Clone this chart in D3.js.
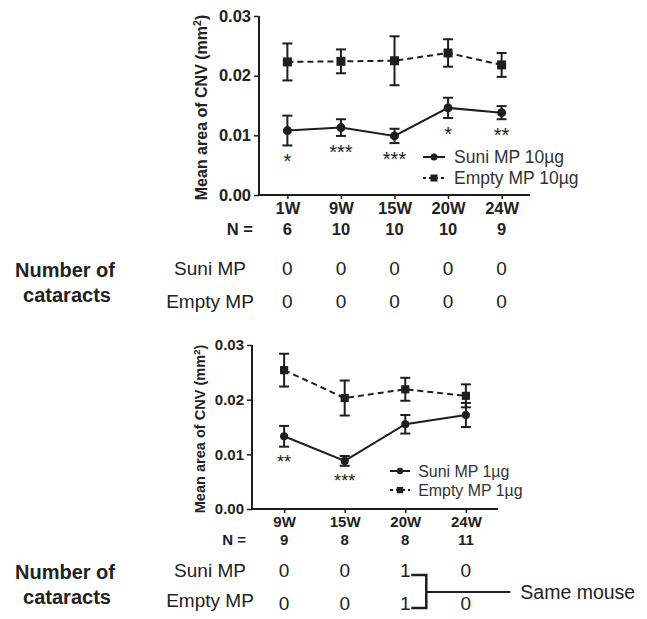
<!DOCTYPE html>
<html>
<head>
<meta charset="utf-8">
<script src="https://cdn.jsdelivr.net/npm/d3@7"></script>
<style>
  body { margin: 0; background: #fff; }
  svg { display: block; font-family: "Liberation Sans", Arial, sans-serif; }
</style>
</head>
<body>
<div id="chart"></div>
<script>
// top panel (10 µg)
const weeksTop = ["1W", "9W", "15W", "20W", "24W"]
const nTop = [6, 10, 10, 10, 9]
const suni10Mean = [0.0108, 0.0113, 0.0099, 0.0146, 0.0138]
const suni10Err = [0.0025, 0.0014, 0.0012, 0.0017, 0.0011]
const empty10Mean = [0.0223, 0.0224, 0.0225, 0.0238, 0.0218]
const empty10Err = [0.0031, 0.0020, 0.0041, 0.0023, 0.0020]
const sigTop = ["*", "***", "***", "*", "**"]
const cataractSuniTop = [0, 0, 0, 0, 0]
const cataractEmptyTop = [0, 0, 0, 0, 0]

// bottom panel (1 µg)
const weeksBottom = ["9W", "15W", "20W", "24W"]
const nBottom = [9, 8, 8, 11]
const suni1Mean = [0.0133, 0.0088, 0.0155, 0.0172]
const suni1Err = [0.0019, 0.0009, 0.0017, 0.0022]
const empty1Mean = [0.0254, 0.0203, 0.0219, 0.0207]
const empty1Err = [0.0030, 0.0032, 0.0021, 0.0021]
const sigBottom = ["**", "***", "", ""]
const cataractSuniBottom = [0, 0, 1, 0]
const cataractEmptyBottom = [0, 0, 1, 0]

const yTicks = [0, 0.01, 0.02, 0.03]
const ink = "#1e1e1e"
const textInk = "#222"

const svg = d3.select("#chart").append("svg")
    .attr("width", 647)
    .attr("height", 619)

function panel(opt) {
  const x = d3.scalePoint().domain(opt.weeks).range(opt.xr).padding(0.53)
  const y = d3.scaleLinear().domain([0, 0.03]).range(opt.yr)
  const f = opt.k   // font scale
  const g = svg.append("g")

  // axes
  const yAxis = g.append("g")
      .attr("transform", `translate(${opt.xr[0]},0)`)
      .call(d3.axisLeft(y).tickValues(yTicks).tickFormat(d3.format(".2f")).tickSize(5).tickPadding(3))
  const xAxis = g.append("g")
      .attr("transform", `translate(0,${opt.yr[0]})`)
      .call(d3.axisBottom(x).tickSize(4).tickPadding(3))
  for (const ax of [yAxis, xAxis]) {
    ax.select(".domain").attr("stroke", ink).attr("stroke-width", 2)
    ax.selectAll(".tick line").attr("stroke", ink).attr("stroke-width", 1.5)
    ax.selectAll("text").attr("fill", textInk).attr("font-weight", "bold")
      .attr("font-size", 16.5 * f).attr("font-family", "Liberation Sans, Arial, sans-serif")
  }
  xAxis.selectAll(".domain").attr("d", `M${opt.xr[0]},0H${opt.xr[1]}`)
  yAxis.selectAll(".domain").attr("d", `M0,${opt.yr[0]}V${opt.yr[1]}`)

  // y title
  const t = g.append("text")
      .attr("transform", `translate(${opt.titleX},${(opt.yr[0] + opt.yr[1]) / 2 + 2}) rotate(-90)`)
      .attr("text-anchor", "middle")
      .attr("font-weight", "bold")
      .attr("font-size", 16 * f)
      .attr("fill", textInk)
  t.append("tspan").text("Mean area of CNV (mm")
  t.append("tspan").attr("font-size", 10.5 * f).attr("dy", -6 * f).text("2")
  t.append("tspan").attr("dy", 6 * f).text(")")

  // N row
  const nY = opt.yr[0] + 40 * f
  g.append("text").attr("x", opt.xr[0] - 6).attr("y", nY)
      .attr("text-anchor", "end").attr("font-weight", "bold")
      .attr("font-size", 16.5 * f).attr("fill", textInk).text("N =")
  g.selectAll(".n").data(opt.n).join("text")
      .attr("x", (d, i) => x(opt.weeks[i])).attr("y", nY)
      .attr("text-anchor", "middle").attr("font-weight", "bold")
      .attr("font-size", 16.5 * f).attr("fill", textInk).text(d => d)

  const series = [
    {mean: opt.suniMean, err: opt.suniErr, dash: null, shape: "circle"},
    {mean: opt.emptyMean, err: opt.emptyErr, dash: "6,4", shape: "square"}
  ]
  const line = d3.line().x(d => x(d.w)).y(d => y(d.v))
  const cap = 5

  series.forEach(s => {
    const pts = s.mean.map((v, i) => ({w: opt.weeks[i], v, e: s.err[i]}))
    g.append("path").datum(pts)
        .attr("d", line).attr("fill", "none")
        .attr("stroke", ink).attr("stroke-width", 2)
        .attr("stroke-dasharray", s.dash)
    const eb = g.append("g").attr("stroke", ink).attr("stroke-width", 2)
    pts.forEach(p => {
      const cx = x(p.w)
      eb.append("line").attr("x1", cx).attr("x2", cx).attr("y1", y(p.v + p.e)).attr("y2", y(p.v - p.e))
      eb.append("line").attr("x1", cx - cap).attr("x2", cx + cap).attr("y1", y(p.v + p.e)).attr("y2", y(p.v + p.e))
      eb.append("line").attr("x1", cx - cap).attr("x2", cx + cap).attr("y1", y(p.v - p.e)).attr("y2", y(p.v - p.e))
    })
    if (s.shape === "circle") {
      g.selectAll(null).data(pts).join("circle")
          .attr("cx", d => x(d.w)).attr("cy", d => y(d.v)).attr("r", 4.5 * f).attr("fill", ink)
    } else {
      const h = 4.5 * f
      g.selectAll(null).data(pts).join("rect")
          .attr("x", d => x(d.w) - h).attr("y", d => y(d.v) - h)
          .attr("width", 2 * h).attr("height", 2 * h).attr("fill", ink)
    }
  })

  // significance stars under the Suni error bars
  g.selectAll(".sig").data(opt.sig).join("text")
      .attr("x", (d, i) => x(opt.weeks[i]))
      .attr("y", (d, i) => y(opt.suniMean[i] - opt.suniErr[i]) + 23 * f)
      .attr("text-anchor", "middle").attr("font-size", 20 * f)
      .attr("fill", textInk).text(d => d)

  // legend
  const lg = g.append("g").attr("transform", `translate(${opt.legend[0]},${opt.legend[1]})`)
  series.forEach((s, i) => {
    const ly = i * 21 * f
    lg.append("line").attr("x1", 0).attr("x2", 22 * f).attr("y1", ly).attr("y2", ly)
        .attr("stroke", ink).attr("stroke-width", 2).attr("stroke-dasharray", s.dash ? "3,3" : null)
    if (s.shape === "circle") {
      lg.append("circle").attr("cx", 11 * f).attr("cy", ly).attr("r", 3.5 * f).attr("fill", ink)
    } else {
      lg.append("rect").attr("x", 11 * f - 3.5 * f).attr("y", ly - 3.5 * f)
          .attr("width", 7 * f).attr("height", 7 * f).attr("fill", ink)
    }
    lg.append("text").attr("x", 31 * f).attr("y", ly).attr("dy", "0.35em")
        .attr("font-size", 17.5 * f).attr("fill", "#333").text(opt.legendText[i])
  })

  // cataract table
  const tb = g.append("g").attr("font-size", 19).attr("fill", textInk)
  tb.append("text").attr("x", 65).attr("y", opt.tableY[0] + 2).attr("dy", "0.35em")
      .attr("text-anchor", "middle").attr("font-weight", "bold").attr("font-size", 20).text("Number of")
  tb.append("text").attr("x", 67).attr("y", opt.tableY[0] + 27).attr("dy", "0.35em")
      .attr("text-anchor", "middle").attr("font-weight", "bold").attr("font-size", 20).text("cataracts")
  const rows = [["Suni MP", opt.catSuni], ["Empty MP", opt.catEmpty]]
  rows.forEach(([label, vals], r) => {
    const ry = opt.tableY[r]
    tb.append("text").attr("x", 210).attr("y", ry).attr("dy", "0.35em")
        .attr("text-anchor", "middle").text(label)
    tb.selectAll(null).data(vals).join("text")
        .attr("x", (d, i) => x(opt.weeks[i])).attr("y", (d, i) => ry + (r === 1 ? opt.rowShift : 0))
        .attr("dy", "0.35em").attr("text-anchor", "middle").text(d => d)
  })
  return x
}

panel({
  weeks: weeksTop, n: nTop,
  suniMean: suni10Mean, suniErr: suni10Err,
  emptyMean: empty10Mean, emptyErr: empty10Err,
  sig: sigTop, catSuni: cataractSuniTop, catEmpty: cataractEmptyTop,
  legendText: ["Suni MP 10\u00b5g", "Empty MP 10\u00b5g"],
  xr: [259, 530], yr: [195, 16], k: 1, titleX: 207,
  legend: [423, 157], tableY: [268, 301], rowShift: 0
})

const xb = panel({
  weeks: weeksBottom, n: nBottom,
  suniMean: suni1Mean, suniErr: suni1Err,
  emptyMean: empty1Mean, emptyErr: empty1Err,
  sig: sigBottom, catSuni: cataractSuniBottom, catEmpty: cataractEmptyBottom,
  legendText: ["Suni MP 1\u00b5g", "Empty MP 1\u00b5g"],
  xr: [252, 498], yr: [509, 345], k: 0.91, titleX: 205,
  legend: [390, 471], tableY: [570, 600], rowShift: 3
})

// "Same mouse" bracket joining the two 20W cataracts
const bx = xb("20W")
const br = svg.append("g").attr("stroke", ink).attr("stroke-width", 2.5).attr("fill", "none")
br.append("path").attr("d", `M${bx + 6},575H${bx + 21}V608H${bx + 6}`)
br.append("line").attr("x1", bx + 21).attr("x2", bx + 105).attr("y1", 592).attr("y2", 592).attr("stroke-width", 2)
svg.append("text").attr("x", bx + 115).attr("y", 592).attr("dy", "0.35em")
    .attr("font-size", 19.5).attr("fill", textInk).text("Same mouse")
</script>
</body>
</html>
